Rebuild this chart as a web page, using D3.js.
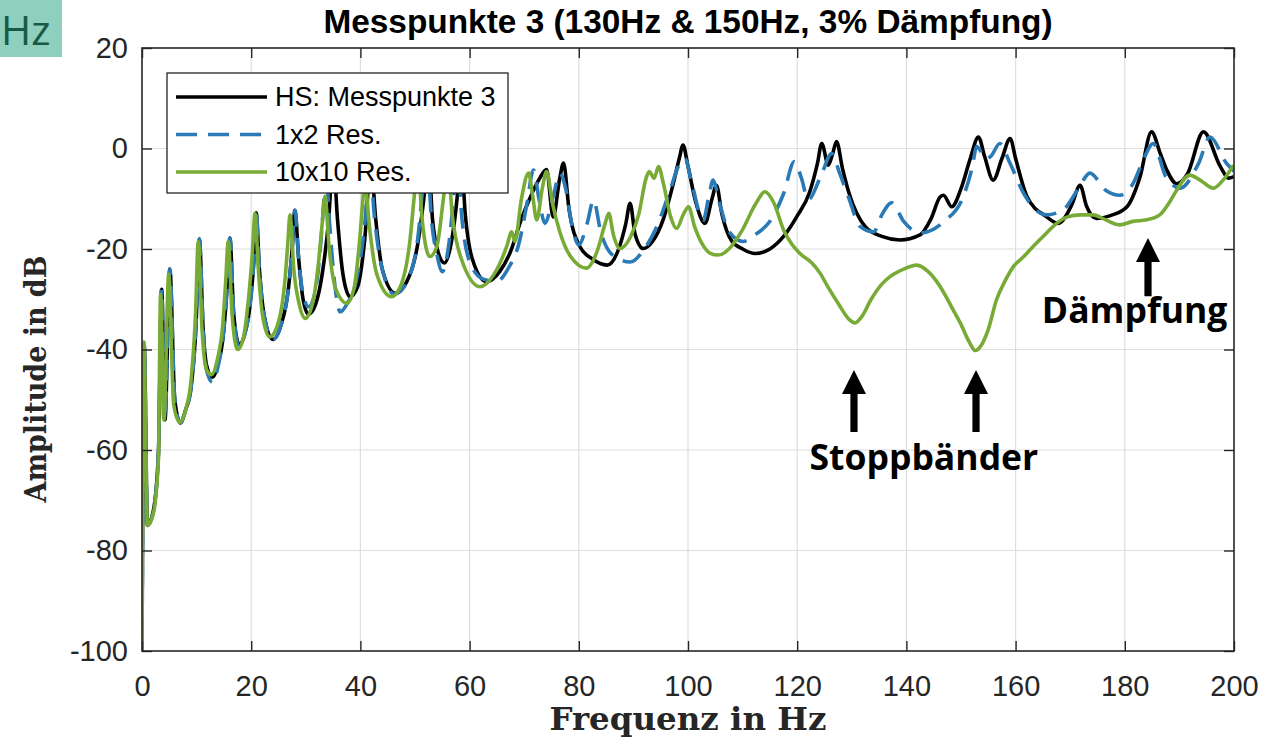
<!DOCTYPE html>
<html>
<head>
<meta charset="utf-8">
<script src="https://cdn.jsdelivr.net/npm/d3@7"></script>
<style>
  body { margin: 0; background: #fff; }
  svg { display: block; }
</style>
</head>
<body>
<svg id="chart" width="1279" height="741"></svg>
<script>
// ---- data -------------------------------------------------------------
const xTicks = [0, 20, 40, 60, 80, 100, 120, 140, 160, 180, 200];
const yTicks = [-100, -80, -60, -40, -20, 0, 20];
const seriesNames = ["HS: Messpunkte 3", "1x2 Res.", "10x10 Res."];

// [frequency in Hz, amplitude in dB]
const hsMesspunkte = [
  [0,-100],[0.4,-39],[1.0,-75],[2.0,-72.5],[3.0,-61],[3.6,-28],[4.2,-54],[5.1,-24],
  [6.0,-50],[7.0,-54.6],[8.0,-52],[9.0,-47.4],[9.9,-35],[10.5,-18],[11.2,-36],[11.8,-43],
  [12.9,-45.5],[14.0,-42.5],[14.8,-38],[15.5,-29],[16.1,-17.8],[16.8,-33],[17.8,-39],
  [18.8,-37],[19.8,-31],[20.5,-22],[20.9,-12.8],[21.5,-24],[22.5,-34],[24.0,-38],
  [25.5,-35],[26.8,-28],[27.5,-20],[28.0,-12.3],[28.7,-22],[29.5,-30],[30.5,-33],
  [31.8,-31],[33.0,-25],[34.2,-14],[35.0,-2],[35.8,-14],[36.8,-25],[38.1,-29.5],
  [39.5,-27.5],[40.8,-18],[41.9,-3],[42.8,-14],[44.0,-24],[46.4,-28.8],[48.5,-26.5],
  [50.5,-19],[51.8,-8],[52.4,-1],[53.2,-14],[54.2,-20.5],[55.4,-22.8],[56.6,-19],
  [57.7,-10],[58.4,-1],[59.2,-13],[60.5,-22],[63.1,-26.5],[65.5,-24.5],[67.5,-20.5],
  [69.5,-14],[71,-10],[72.8,-6],[74.1,-4.2],[75.3,-13.6],[76.5,-6],[77.2,-2.9],
  [78.2,-12],[80.2,-19.5],[82.5,-22],[85.2,-23.2],[87.3,-20],[88.6,-15],[89.4,-10.9],
  [90.3,-17],[91.8,-19.9],[93.5,-18.5],[95.5,-14],[97.3,-7],[98.4,-2],[99.1,0.7],
  [99.9,-3],[101.5,-11],[103.1,-14.9],[104.4,-10],[105.2,-7.3],[106.2,-13],[108,-18.4],
  [110,-20],[112.3,-20.9],[115,-20],[117.5,-17.5],[119.9,-13.6],[122.3,-8.6],[123.7,-3],
  [124.5,1.0],[125.7,-3.3],[126.5,-1],[127.2,1.4],[128.3,-4],[129.5,-8.9],[132.5,-15.6],
  [135.5,-17.5],[138.8,-18.2],[142.5,-17.2],[144.5,-14],[146.2,-9.6],[146.8,-9.3],
  [148.3,-11.6],[150,-8],[151.7,-2],[153.2,2.3],[154.3,-1.5],[155.9,-6.3],[157.5,-2],
  [159.0,2.0],[160,-2],[162.1,-9.6],[165.7,-13.6],[167.8,-14.9],[170.3,-11.2],
  [171.8,-7.3],[173,-11.5],[174.8,-13.9],[177.5,-13.3],[180.4,-11.6],[182.8,-5.6],
  [184.9,3.3],[186.5,-1],[187.7,-4.3],[189.5,-7],[191.5,-5],[194.4,3.3],[197.5,-3.6],
  [199.0,-5.9],[200,-5.6]
];

const res1x2 = [
  [0,-100],[0.4,-39],[1.0,-75],[2.0,-72.5],[3.0,-61],[3.6,-28],[4.2,-54],[5.1,-24],
  [6.0,-50],[7.0,-54.6],[8.0,-52],[9.0,-47.4],[9.9,-35],[10.5,-18],[11.2,-36],[11.8,-44],
  [12.9,-46.5],[14.0,-43],[14.8,-38],[15.5,-29],[16.1,-17.8],[16.8,-33],[17.8,-39.5],
  [18.8,-37],[19.8,-31],[20.5,-22],[20.9,-12.8],[21.5,-24],[22.5,-34],[24.0,-38],
  [25.5,-35],[26.8,-28],[27.5,-20],[28.0,-12.3],[28.7,-22],[29.5,-29],[30.5,-31.5],
  [31.5,-29.5],[32.5,-22],[33.2,-12],[33.7,-4],[34.3,-14],[35.3,-27],[36.3,-32.5],
  [37.5,-31],[39.5,-25],[40.8,-15],[41.7,-3],[42.6,-14],[44.0,-24],[46.2,-29],
  [48.5,-26.5],[50.5,-18],[51.6,-6],[52.2,-1],[53.0,-14],[54,-21],[55.0,-24.5],
  [56.2,-19],[57.2,-8],[57.7,-1],[58.6,-14],[60,-22.5],[62.5,-26],[64.9,-26.5],
  [67,-24],[69.2,-18.2],[70.5,-11],[71.7,-4.3],[72.7,-10],[73.8,-14.9],[75.2,-10],
  [76.6,-5],[77.6,-8],[78.7,-15],[80.0,-19.2],[81.5,-15],[82.7,-10.3],[84,-16.5],
  [86,-21],[89.4,-22.6],[92,-20],[94.5,-15],[96.5,-9],[98.5,-3],[99.5,-2.0],
  [100.5,-6],[102.8,-14.2],[103.9,-9],[104.6,-6.3],[105.8,-11],[107.5,-16.5],
  [110.1,-18.5],[112.5,-17],[115,-14.5],[117.5,-9],[119.5,-2.6],[120.8,-6],[122,-10.2],
  [124.5,-5],[126.3,-1.0],[127.8,-5],[129.5,-10],[131.5,-15.5],[134,-16.6],
  [135.5,-13.2],[137.3,-10.8],[139.5,-14.5],[142.5,-16.8],[146.8,-14.6],[150.4,-9.6],
  [152,-4],[152.9,0.4],[154.5,-2],[155.5,-1.5],[157.1,1.0],[159,-3],[161.5,-9],
  [163.5,-12],[165.7,-13.2],[168.7,-12.2],[171.5,-8],[173.6,-4.9],[176.5,-8.3],
  [179.1,-9.3],[181.5,-7],[183.5,-2],[185.2,1.0],[187.5,-5.6],[190.1,-7.9],[193.5,-3],
  [195.6,2.3],[198.6,-2.9],[200,-4.5]
];

const res10x10 = [
  [0,-100],[0.35,-38.5],[1.0,-75],[2.0,-73],[3.0,-62],[3.4,-29],[4.0,-54],[4.9,-25],
  [5.8,-51],[6.9,-54.5],[8.0,-52],[9.0,-46],[9.8,-33],[10.3,-18.5],[11.0,-36],
  [11.8,-44],[12.7,-45],[13.8,-42],[14.8,-35],[15.3,-27],[15.8,-18.5],[16.5,-33],
  [17.5,-40],[18.5,-38],[19.5,-30],[20.2,-21],[20.7,-12.9],[21.3,-24],[22.2,-34],
  [23.4,-37.5],[25,-34.5],[26.2,-26],[26.7,-19],[27.1,-13.2],[27.8,-24],[28.8,-31],
  [29.9,-33.8],[31.2,-31],[32.3,-23],[33.0,-15],[33.5,-9.5],[34.3,-20],[35.5,-28],
  [37.5,-30.8],[38.8,-28],[39.8,-19],[40.4,-11],[40.8,-6],[41.6,-15],[43,-25],
  [45.7,-29.5],[47.5,-27],[49,-19],[50,-8],[50.5,-3],[51.3,-14],[52.7,-21.5],[54,-19.5],
  [55.2,-10],[56.0,-3],[56.8,-13],[58.5,-22],[61.9,-27.5],[64.5,-25],[66.8,-19.5],
  [67.7,-16.6],[68.3,-18.5],[69.5,-10],[70.8,-4.9],[71.5,-9],[72.3,-14.2],[73.3,-8],
  [74.1,-4.6],[75.2,-11],[76.5,-16.5],[78.5,-21.5],[81.4,-23.8],[83.5,-20],[84.8,-15],
  [85.5,-12.9],[86.3,-17],[87.5,-19.9],[89.5,-17.5],[91,-13],[92.3,-6],[92.9,-4.6],
  [93.8,-5.9],[94.6,-3.6],[95.5,-7],[96.8,-13.5],[97.9,-15.9],[99.2,-13],[100.1,-11.6],
  [101.2,-15.5],[102.6,-19],[104,-20.8],[105.6,-21.2],[107.5,-20],[109.8,-16.5],
  [112.4,-11],[114.1,-8.6],[115.8,-11],[117.5,-16.2],[119,-19],[120.5,-20.9],
  [122.7,-22.8],[124.3,-25],[125.6,-27.5],[127.6,-31],[129.5,-34],[130.6,-34.7],
  [131.8,-33.5],[133.5,-30.1],[135.5,-27],[137,-25.5],[139.5,-24],[141.9,-23.2],
  [144,-24.5],[146.2,-27.5],[148.5,-32],[150,-35],[151.5,-38.5],[152.6,-40.2],
  [153.8,-39],[155,-36],[156.5,-30.1],[158,-26.5],[159.6,-23.5],[161.5,-21.5],
  [163.2,-19.5],[165.5,-17],[167.5,-14.9],[169.5,-13.6],[171.8,-13.2],[174.2,-13.2],
  [176.5,-14.2],[179.1,-15.2],[181.5,-14.5],[184,-14.2],[186.4,-13.2],[188,-11],
  [189.5,-8.3],[191.9,-5.3],[193.8,-6.3],[196.2,-7.9],[198,-6.3],[199.9,-3.3]
];

// annotation arrows (Hz, tip dB, tail dB) and labels (Hz, baseline dB)
const arrowMarks = [
  { f: 130.4, tip: -44.1, tail: -56.4 },
  { f: 152.75, tip: -44.1, tail: -56.4 },
  { f: 184.25, tip: -17.8, tail: -29.4 }
];
const arrowLabels = [
  { text: "Stoppbänder", f: 143.2, db: -63.9 },
  { text: "Dämpfung", f: 181.8, db: -34.8 }
];

// ---- layout -----------------------------------------------------------
const plot = { left: 142, right: 1234, top: 48, bottom: 651 };
const axisColor = "#262626";
const tickFont = "'Liberation Sans', Arial, sans-serif";
const serifFont = "'DejaVu Serif', serif";
const noteFont = "'Open Sans', 'Noto Sans', sans-serif";

const svg = d3.select("#chart");
svg.append("rect").attr("width", 1279).attr("height", 741).attr("fill", "#fff");

const x = d3.scaleLinear().domain([0, 200]).range([plot.left, plot.right]);
const y = d3.scaleLinear().domain([-100, 20]).range([plot.bottom, plot.top]);

// corner tag
svg.append("rect").attr("x", 0).attr("y", 0).attr("width", 62).attr("height", 57)
  .attr("fill", "#8ecfbe");
svg.append("text").attr("x", 1).attr("y", 45).text("Hz")
  .attr("font-family", noteFont)
  .attr("font-size", 41).attr("fill", "#175a45");

// grid
const grid = svg.append("g").attr("stroke", "#dedede").attr("stroke-width", 1.2);
grid.selectAll("line.gx").data(xTicks.slice(1, -1)).join("line")
  .attr("x1", d => x(d)).attr("x2", d => x(d))
  .attr("y1", plot.top).attr("y2", plot.bottom);
grid.selectAll("line.gy").data(yTicks.slice(1, -1)).join("line")
  .attr("x1", plot.left).attr("x2", plot.right)
  .attr("y1", d => y(d)).attr("y2", d => y(d));

// curves
svg.append("clipPath").attr("id", "plotClip").append("rect")
  .attr("x", plot.left).attr("y", plot.top)
  .attr("width", plot.right - plot.left).attr("height", plot.bottom - plot.top);

const line = d3.line().x(d => x(d[0])).y(d => y(d[1])).curve(d3.curveMonotoneX);
const series = [
  { data: hsMesspunkte, color: "#000000", dash: null },
  { data: res1x2, color: "#2a7ab6", dash: "21,11" },
  { data: res10x10, color: "#77ab35", dash: null }
];
const curves = svg.append("g").attr("clip-path", "url(#plotClip)");
series.forEach(s => {
  curves.append("path").attr("d", line(s.data))
    .attr("fill", "none").attr("stroke", s.color).attr("stroke-width", 3.6)
    .attr("stroke-linejoin", "round")
    .attr("stroke-dasharray", s.dash);
});

// axes (ticks pointing inward on all four sides)
function styleAxis(g) {
  g.select(".domain").remove();
  g.selectAll(".tick line").attr("stroke", axisColor).attr("stroke-width", 1.4);
  g.selectAll(".tick text").attr("fill", axisColor)
    .attr("font-family", tickFont).attr("font-size", 29);
}
svg.append("g").attr("transform", `translate(0,${plot.bottom})`)
  .call(d3.axisBottom(x).tickValues(xTicks).tickSize(-10).tickPadding(24).tickFormat(d3.format("d")))
  .call(styleAxis);
svg.append("g").attr("transform", `translate(0,${plot.top})`)
  .call(d3.axisTop(x).tickValues(xTicks).tickSize(-10).tickFormat(""))
  .call(styleAxis);
svg.append("g").attr("transform", `translate(${plot.left},0)`)
  .call(d3.axisLeft(y).tickValues(yTicks).tickSize(-10).tickPadding(14).tickFormat(d => String(d)))
  .call(styleAxis);
svg.append("g").attr("transform", `translate(${plot.right},0)`)
  .call(d3.axisRight(y).tickValues(yTicks).tickSize(-10).tickFormat(""))
  .call(styleAxis);

svg.append("rect").attr("x", plot.left).attr("y", plot.top)
  .attr("width", plot.right - plot.left).attr("height", plot.bottom - plot.top)
  .attr("fill", "none").attr("stroke", axisColor).attr("stroke-width", 1.6);

// title and axis labels
svg.append("text").attr("x", (plot.left + plot.right) / 2).attr("y", 33)
  .attr("text-anchor", "middle").attr("font-family", tickFont)
  .attr("font-weight", "bold").attr("font-size", 33.4).attr("fill", "#000")
  .text("Messpunkte 3 (130Hz & 150Hz, 3% Dämpfung)");
svg.append("text").attr("x", (plot.left + plot.right) / 2).attr("y", 730)
  .attr("text-anchor", "middle").attr("font-family", serifFont)
  .attr("font-weight", "bold").attr("font-size", 31).attr("fill", axisColor)
  .attr("textLength", 277).attr("lengthAdjust", "spacingAndGlyphs")
  .text("Frequenz in Hz");
svg.append("text").attr("transform", "translate(46,379) rotate(-90)")
  .attr("text-anchor", "middle").attr("font-family", serifFont)
  .attr("font-weight", "bold").attr("font-size", 29).attr("fill", axisColor)
  .attr("textLength", 247).attr("lengthAdjust", "spacingAndGlyphs")
  .text("Amplitude in dB");

// legend
const legend = svg.append("g");
legend.append("rect").attr("x", 167).attr("y", 73).attr("width", 341).attr("height", 120)
  .attr("fill", "#fff").attr("stroke", axisColor).attr("stroke-width", 1.3);
series.forEach((s, i) => {
  const ly = 97 + i * 37.5;
  legend.append("line").attr("x1", 176).attr("x2", 267).attr("y1", ly).attr("y2", ly)
    .attr("stroke", s.color).attr("stroke-width", 3.6).attr("stroke-dasharray", s.dash);
  legend.append("text").attr("x", 275).attr("y", ly).attr("dy", "0.35em")
    .attr("font-family", tickFont).attr("font-size", 27).attr("fill", "#000")
    .text(seriesNames[i]);
});

// annotations
const ann = svg.append("g");
arrowMarks.forEach(a => {
  const cx = x(a.f), ty = y(a.tip), by = y(a.tail);
  const hh = 24, hw = 12, sw = 3.6;
  ann.append("path")
    .attr("d", `M${cx},${ty} L${cx + hw},${ty + hh} L${cx + sw},${ty + hh} L${cx + sw},${by}
                L${cx - sw},${by} L${cx - sw},${ty + hh} L${cx - hw},${ty + hh} Z`)
    .attr("fill", "#000");
});
arrowLabels.forEach(l => {
  ann.append("text").attr("x", x(l.f)).attr("y", y(l.db))
    .attr("text-anchor", "middle").attr("font-family", noteFont)
    .attr("font-weight", "bold").attr("font-size", 35.5).attr("fill", "#000")
    .text(l.text);
});
</script>
</body>
</html>
